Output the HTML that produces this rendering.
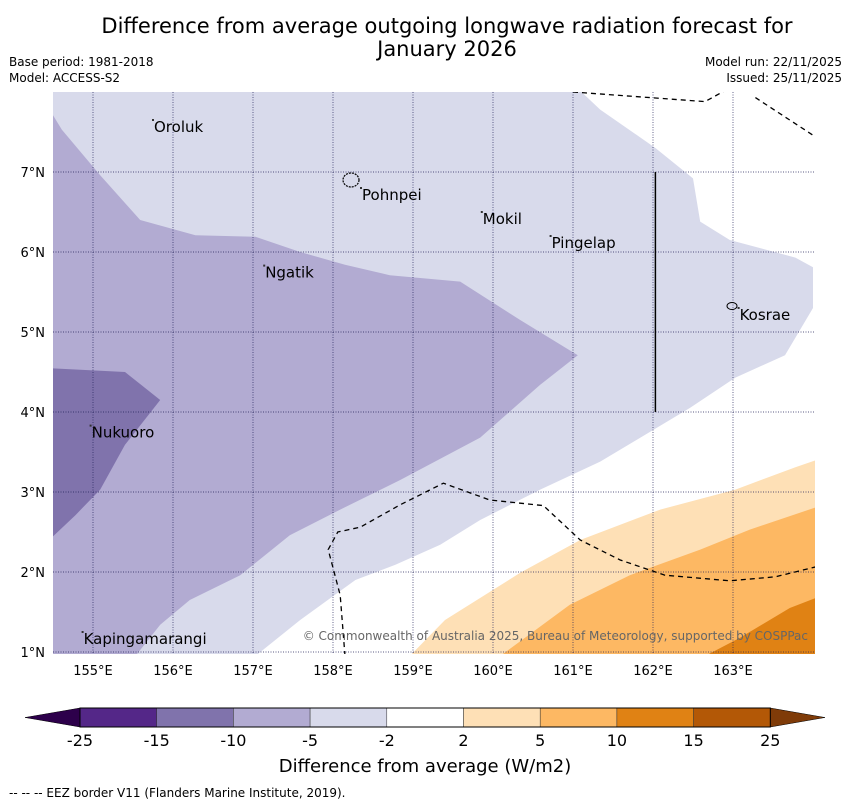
<!DOCTYPE html>
<html><head><meta charset="utf-8"><style>
body{margin:0;background:#fff;width:850px;height:804px;overflow:hidden;font-family:"DejaVu Sans","Liberation Sans",sans-serif;}
svg text{font-family:"DejaVu Sans","Liberation Sans",sans-serif;}
</style></head><body>
<svg id="chart" width="850" height="804" xmlns="http://www.w3.org/2000/svg">
<text x="447" y="33" font-size="21" text-anchor="middle">Difference from average outgoing longwave radiation forecast for</text>
<text x="447" y="56" font-size="21" text-anchor="middle">January 2026</text>
<text x="9" y="66" font-size="12">Base period: 1981-2018</text>
<text x="9" y="82" font-size="12">Model: ACCESS-S2</text>
<text x="842" y="66" font-size="12" text-anchor="end">Model run: 22/11/2025</text>
<text x="842" y="82" font-size="12" text-anchor="end">Issued: 25/11/2025</text>
<defs><clipPath id="mapclip"><rect x="53" y="92" width="762" height="562"/></clipPath></defs>
<g id="map" clip-path="url(#mapclip)"></g>
<g id="axes"></g>
<g id="cbar"></g>
<text x="425" y="772" font-size="18" text-anchor="middle">Difference from average (W/m2)</text>
<text x="9" y="797" font-size="12">--  --  -- EEZ border V11 (Flanders Marine Institute, 2019).</text>
</svg>
<script>
const lonTicks=[155,156,157,158,159,160,161,162,163];
const latTicks=[1,2,3,4,5,6,7];
const levelColors=["#542788","#8073ac","#b2abd2","#d8daeb","#ffffff","#fee0b6","#fdb863","#e08214","#b35806"];
const levelLabels=["-25","-15","-10","-5","-2","2","5","10","15","25"];
const lightPurple=[[161.0,8.1],[161.34,7.78],[162.03,7.3],[162.5,6.92],[162.59,6.38],[162.96,6.15],[163.78,5.93],[164.0,5.81],[164.0,5.3],[163.65,4.71],[163.03,4.43],[162.46,4.05],[161.96,3.75],[161.34,3.38],[160.59,3.03],[159.84,2.65],[159.34,2.34],[158.78,2.09],[158.28,1.9],[157.59,1.4],[157.03,0.95],[154.4,0.95],[154.4,8.1]];
const midPurple=[[154.4,7.71],[154.5,7.71],[154.61,7.53],[155.09,6.96],[155.59,6.4],[156.28,6.21],[157.03,6.19],[157.59,6.0],[158.15,5.84],[158.71,5.71],[159.59,5.63],[160.34,5.15],[161.06,4.71],[160.59,4.34],[159.84,3.68],[158.84,3.15],[158.09,2.78],[157.46,2.46],[156.84,1.96],[156.21,1.65],[155.84,1.34],[155.53,0.95],[154.4,0.95]];
const darkPurple=[[154.4,4.55],[155.4,4.5],[155.84,4.15],[155.4,3.59],[155.09,3.03],[154.78,2.71],[154.4,2.35]];
const lightOrange=[[158.96,0.95],[159.4,1.4],[160.34,1.99],[161.09,2.4],[162.09,2.78],[163.03,3.03],[163.78,3.31],[164.1,3.42],[164.1,0.95]];
const midOrange=[[160.09,0.95],[160.96,1.59],[161.71,1.96],[162.59,2.28],[163.21,2.53],[164.1,2.83],[164.1,0.95]];
const darkOrange=[[162.65,0.95],[163.09,1.18],[163.71,1.55],[164.1,1.7],[164.1,0.95]];
const eezSouth=[[158.15,0.95],[158.09,1.71],[157.94,2.28],[158.06,2.5],[158.34,2.56],[158.84,2.84],[159.38,3.11],[159.96,2.9],[160.63,2.83],[161.09,2.4],[161.59,2.15],[162.15,1.96],[162.96,1.89],[163.53,1.94],[164.1,2.08]];
const eezNorthA=[[161.0,8.0],[162.65,7.88],[162.96,8.05]];
const eezNorthB=[[163.28,7.93],[164.0,7.46]];
const islandNames=["Oroluk","Pohnpei","Mokil","Pingelap","Ngatik","Kosrae","Nukuoro","Kapingamarangi"];
const islandLon=[155.75,158.35,159.86,160.72,157.14,163.07,154.97,154.87];
const islandLat=[7.65,6.8,6.5,6.2,5.83,5.3,3.83,1.25];

const NS="http://www.w3.org/2000/svg";
const x=lon=>53+(lon-154.5)*80;
const y=lat=>652-(lat-1)*80;
function el(tag,attrs,parent){const e=document.createElementNS(NS,tag);for(const k in attrs)e.setAttribute(k,attrs[k]);parent.appendChild(e);return e;}
const map=document.getElementById('map'),axes=document.getElementById('axes'),cbar=document.getElementById('cbar');
const pts=a=>a.map(p=>x(p[0]).toFixed(1)+','+y(p[1]).toFixed(1)).join(' ');
el('rect',{x:53,y:92,width:762,height:562,fill:'#ffffff'},map);
const polys=[[lightPurple,levelColors[3],'contour-minus5'],[midPurple,levelColors[2],'contour-minus10'],[darkPurple,levelColors[1],'contour-minus15'],[lightOrange,levelColors[5],'contour-plus2'],[midOrange,levelColors[6],'contour-plus5'],[darkOrange,levelColors[7],'contour-plus10']];
polys.forEach(p=>{const e=el('polygon',{points:pts(p[0]),fill:p[1]},map);

});
lonTicks.forEach(v=>{const g=el('line',{x1:x(v),x2:x(v),y1:92,y2:654,stroke:'#22225a','stroke-width':0.7,'stroke-dasharray':'1,1.5'},map);


const t=el('text',{x:x(v),y:675,'font-size':13,'text-anchor':'middle'},axes);t.textContent=v+'°E';

});
latTicks.forEach(v=>{const g=el('line',{x1:53,x2:815,y1:y(v),y2:y(v),stroke:'#22225a','stroke-width':0.7,'stroke-dasharray':'1,1.5'},map);


const t=el('text',{x:45,y:y(v)+5,'font-size':13,'text-anchor':'end'},axes);t.textContent=v+'°N';

});
[eezSouth,eezNorthA,eezNorthB].forEach(a=>{const e=el('polyline',{points:pts(a),fill:'none',stroke:'#000','stroke-width':1.3,'stroke-dasharray':'5,4'},map);

});
const vl=el('line',{x1:x(162.03),x2:x(162.03),y1:y(7),y2:y(4),stroke:'#000','stroke-width':1.5},map);


const pohn=el('ellipse',{cx:351,cy:180,rx:8,ry:7,fill:'none',stroke:'#000','stroke-width':1.2,'stroke-dasharray':'2,1'},map);


const kos=el('ellipse',{cx:732,cy:306,rx:5,ry:3.5,fill:'none',stroke:'#000','stroke-width':1},map);


islandNames.forEach((n,i)=>{const px=x(islandLon[i]),py=y(islandLat[i]);
const d=el('rect',{x:px-1,y:py-1,width:2,height:2,fill:'#333'},map);


const t=el('text',{x:px+1,y:py+12,'font-size':15},map);t.textContent=n;

});
const cr=el('text',{x:808,y:640,'font-size':12,'text-anchor':'end',fill:'#666'},map);
cr.textContent='© Commonwealth of Australia 2025, Bureau of Meteorology, supported by COSPPac';


const cx0=80,cw=76.7,cy0=708,ch=19;
levelColors.forEach((c,i)=>{const r=el('rect',{x:cx0+i*cw,y:cy0,width:cw,height:ch,fill:c,stroke:'#333','stroke-width':0.5},cbar);

});
const la=el('polygon',{points:`${cx0},${cy0} ${cx0},${cy0+ch} 25,${cy0+ch/2}`,fill:'#2d004b',stroke:'#000','stroke-width':0.5},cbar);


const ex=cx0+9*cw;
const ra=el('polygon',{points:`${ex},${cy0} ${ex},${cy0+ch} 825,${cy0+ch/2}`,fill:'#7f3b08',stroke:'#000','stroke-width':0.5},cbar);


el('rect',{x:cx0,y:cy0,width:9*cw,height:ch,fill:'none',stroke:'#000','stroke-width':1},cbar);
levelLabels.forEach((l,i)=>{const t=el('text',{x:cx0+i*cw,y:746,'font-size':16,'text-anchor':'middle'},cbar);t.textContent=l;

});
</script>
</body></html>
